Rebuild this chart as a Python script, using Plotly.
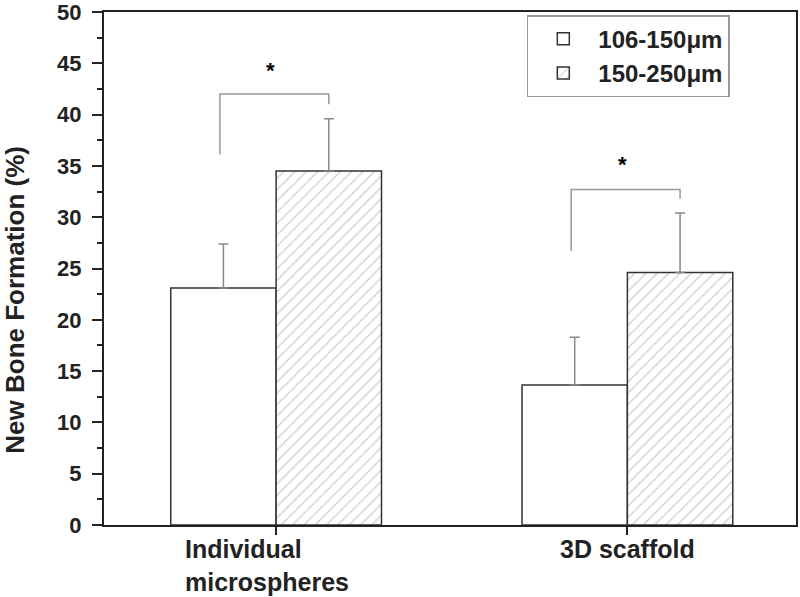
import plotly.graph_objects as go

categorias = ["Individual microspheres", "3D scaffold"]
etiquetas = ["Individual<br>microspheres", "3D scaffold"]
serie_a = [23.1, 13.65]
err_a = [4.3, 4.65]
serie_b = [34.5, 24.6]
err_b = [5.1, 5.8]
nombres = ["106-150\u03bcm", "150-250\u03bcm"]

# significance brackets: left foot, top, right foot, star height
sig_izq = [36.1, 26.7]
sig_top = [42.0, 32.7]
sig_der = [41.0, 31.8]
sig_star = [44.3, 35.1]

FONT = "Liberation Sans"

fig = go.Figure()
fig.add_trace(go.Bar(x=[0, 1], y=serie_a, name=f"<b>{nombres[0]}</b>",
                     marker=dict(color="white", line=dict(color="#333", width=1.5)),
                     error_y=dict(type="data", symmetric=False, array=err_a, arrayminus=[0, 0],
                                  color="#888", thickness=1.5, width=5)))
fig.add_trace(go.Bar(x=[0, 1], y=serie_b, name=f"<b>{nombres[1]}</b>",
                     marker=dict(color="white", line=dict(color="#333", width=1.5),
                                 pattern=dict(shape="/", fgcolor="#999", bgcolor="white",
                                              size=8, solidity=0.15)),
                     error_y=dict(type="data", symmetric=False, array=err_b, arrayminus=[0, 0],
                                  color="#888", thickness=1.5, width=5)))

for i in range(len(categorias)):
    x0, x1 = i - 0.16, i + 0.15
    fig.add_shape(type="path",
                  path=f"M {x0} {sig_izq[i]} L {x0} {sig_top[i]} L {x1} {sig_top[i]} L {x1} {sig_der[i]}",
                  line=dict(color="#999", width=1.5), xref="x", yref="y")
    fig.add_annotation(x=i - 0.015, y=sig_star[i], text="<b>*</b>", showarrow=False,
                       font=dict(family=FONT, size=22, color="black"))
    fig.add_annotation(x=i - 0.025 * (i == 0), y=0, yref="y", text=f"<b>{etiquetas[i]}</b>",
                       showarrow=False, xanchor="center", yanchor="top", align="left", yshift=-8,
                       font=dict(family=FONT, size=25, color="#222"))

# y-axis title placed as annotation (sits a bit below the plot centre in the original)
fig.add_annotation(xref="paper", yref="paper", x=-0.128, y=0.44, text="<b>New Bone Formation (%)</b>",
                   textangle=-90, showarrow=False, xanchor="center", yanchor="middle",
                   font=dict(family=FONT, size=26, color="#222"))

fig.update_layout(
    width=800, height=597,
    margin=dict(l=104, r=4, t=12, b=72),
    paper_bgcolor="white", plot_bgcolor="white",
    barmode="group", bargap=0.4, bargroupgap=0,
    font=dict(family=FONT, color="#222"),
    xaxis=dict(range=[-0.49, 1.48], tickvals=[0, 1], ticktext=["", ""], automargin=False,
               ticks="outside", ticklen=8, tickwidth=1.5, tickcolor="#222",
               showline=True, linecolor="#222", linewidth=2, mirror=True,
               showgrid=False, zeroline=False),
    yaxis=dict(range=[0, 50], dtick=5, ticks="outside", ticklen=10, tickwidth=1.5, automargin=False,
               tickcolor="#222", showline=True, linecolor="#222", linewidth=2, mirror=True,
               showgrid=False, zeroline=False, ticklabeloverflow="allow", ticklabelstandoff=6,
               minor=dict(dtick=2.5, ticks="outside", ticklen=5, tickwidth=1.5, tickcolor="#222"),
               tickfont=dict(family=FONT, size=22, color="#222"), tickprefix="<b>", ticksuffix="</b>"),
    legend=dict(x=0.611, y=0.994, xanchor="left", yanchor="top",
                bordercolor="#999", borderwidth=1.5, bgcolor="white",
                font=dict(family=FONT, size=24, color="#222"), tracegroupgap=0,
                itemwidth=60),
)

fig.write_html("out.html", config={"displayModeBar": False},
               post_script="document.body.style.margin='0';")
